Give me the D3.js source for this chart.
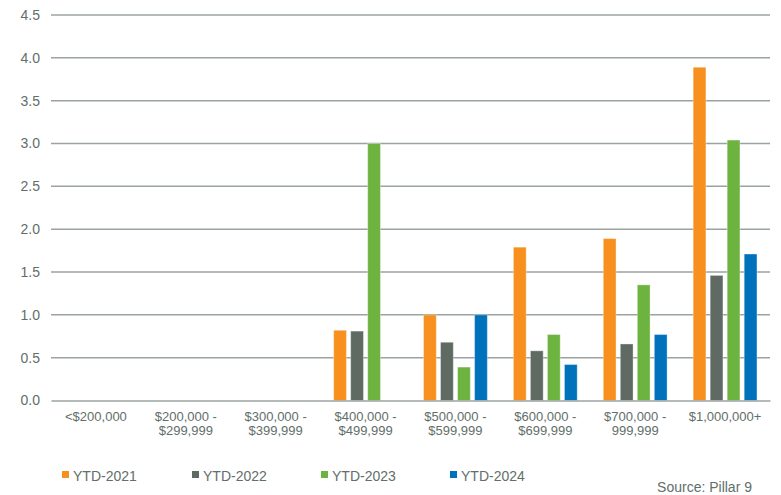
<!DOCTYPE html>
<html><head><meta charset="utf-8">
<script src="https://cdn.jsdelivr.net/npm/d3@7"></script>
<style>body{margin:0;background:#fff}svg{display:block;font-family:"Liberation Sans",Arial,sans-serif}</style>
</head><body><svg id="c" width="781" height="495"></svg>
<script>
const categories = [["<$200,000"],["$200,000 -","$299,999"],["$300,000 -","$399,999"],["$400,000 -","$499,999"],["$500,000 -","$599,999"],["$600,000 -","$699,999"],["$700,000 -","999,999"],["$1,000,000+"]];
const series = ["YTD-2021","YTD-2022","YTD-2023","YTD-2024"];
const colors = ["#F7901E","#5E6A62","#6DB33F","#0072BC"];
const ytd2021 = [null,null,null,0.82,1.00,1.79,1.89,3.89];
const ytd2022 = [null,null,null,0.81,0.68,0.58,0.66,1.46];
const ytd2023 = [null,null,null,3.00,0.39,0.77,1.35,3.04];
const ytd2024 = [null,null,null,null,1.00,0.42,0.77,1.71];
const yTicks = [0,0.5,1,1.5,2,2.5,3,3.5,4,4.5];
const values = [ytd2021,ytd2022,ytd2023,ytd2024];

const svg = d3.select("#c");
const txt = "#626e69";
const x = d3.scaleBand().domain(d3.range(categories.length)).range([51,770]);
const y = d3.scaleLinear().domain([0,4.5]).range([400.5,15]);
const bw = x.bandwidth();
const xs = d3.scaleBand().domain(series).range([bw/2-31.9, bw/2+31.9]).paddingInner(0.25).paddingOuter(0);

// gridlines
svg.append("g").selectAll("line").data(yTicks.filter(d=>d>0)).join("line")
  .attr("x1",51).attr("x2",770).attr("y1",d=>y(d)).attr("y2",d=>y(d))
  .attr("stroke","#9aa39f").attr("stroke-width",1.5);

// y axis labels
const ya = svg.append("g").attr("transform","translate(40,0)")
  .call(d3.axisLeft(y).tickValues(yTicks).tickFormat(d3.format(".1f")).tickSize(0).tickPadding(0));
ya.select(".domain").remove();
ya.selectAll("text").attr("fill",txt).style("font-size","14px").style("font-family","Liberation Sans, Arial, sans-serif");

// bars
const groups = svg.append("g").selectAll("g").data(categories).join("g")
  .attr("transform",(d,i)=>`translate(${x(i)},0)`);
groups.selectAll("rect").data((d,i)=>series.map((s,j)=>({s,j,v:values[j][i]})).filter(o=>o.v!=null))
  .join("rect")
  .attr("x",o=>xs(o.s)).attr("width",xs.bandwidth())
  .attr("y",o=>y(o.v)).attr("height",o=>y(0)-y(o.v))
  .attr("fill",o=>colors[o.j])
  .attr("stroke","rgba(255,255,255,0.35)").attr("stroke-width",1);

// x axis
const xa = svg.append("g").attr("transform","translate(0,400.5)")
  .call(d3.axisBottom(x).tickSize(0).tickFormat(""));
xa.select(".domain").attr("stroke","#9aa39f").attr("stroke-width",1.5);
xa.selectAll("line").remove();
svg.append("g").selectAll("text").data(categories).join("text")
  .attr("text-anchor","middle").attr("fill",txt).style("font-size","13px")
  .attr("transform",(d,i)=>`translate(${x(i)+bw/2},421)`)
  .selectAll("tspan").data(d=>d).join("tspan")
  .attr("x",0).attr("dy",(d,k)=>k===0?0:14).text(d=>d);

// legend
const lx = [62,192,321,450];
const lg = svg.append("g").selectAll("g").data(series).join("g")
  .attr("transform",(d,i)=>`translate(${lx[i]},471)`);
lg.append("rect").attr("width",7).attr("height",7).attr("fill",(d,i)=>colors[i]);
lg.append("text").attr("x",11).attr("y",9.5).attr("fill",txt).style("font-size","14px").text(d=>d);

svg.append("text").attr("x",752).attr("y",492).attr("text-anchor","end")
  .attr("fill",txt).style("font-size","14px").text("Source: Pillar 9");
</script></body></html>
